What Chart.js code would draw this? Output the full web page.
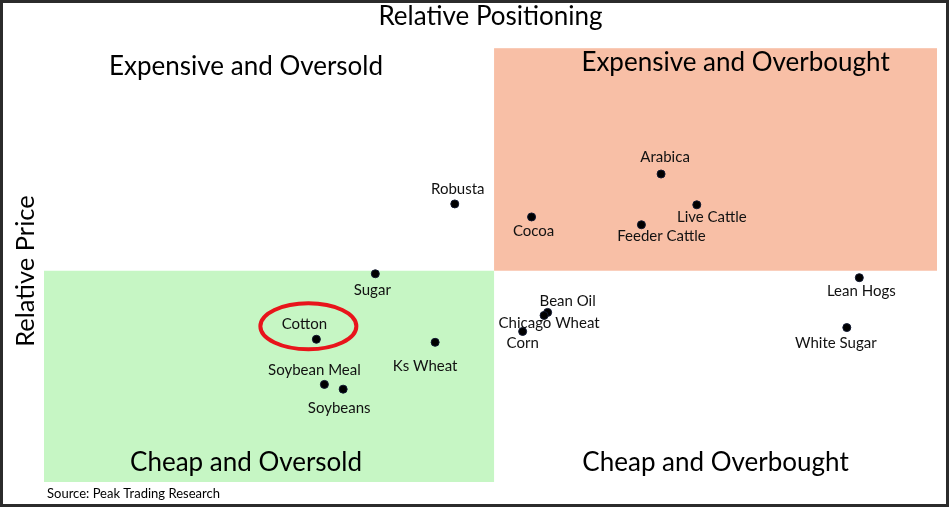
<!DOCTYPE html>
<html>
<head>
<meta charset="utf-8">
<script src="https://cdn.jsdelivr.net/npm/chart.js@4"></script>
<style>
  html, body { margin: 0; padding: 0; background: #fff; }
  #wrap { width: 949px; height: 507px; position: relative; }
</style>
</head>
<body>
<div id="wrap"><canvas id="chart"></canvas></div>
<script>
// commodities and their (relative positioning, relative price) readings
const names = ["Robusta", "Arabica", "Cocoa", "Live Cattle", "Feeder Cattle", "Sugar", "Cotton",
    "Ks Wheat", "Soybean Meal", "Soybeans", "Bean Oil", "Chicago Wheat", "Corn", "Lean Hogs", "White Sugar"];
const positioning = [46.0, 69.1, 54.6, 73.1, 66.9, 37.1, 30.5, 43.8, 31.4, 33.5, 56.4, 56.0, 53.6, 91.3, 89.9];
const price = [64.1, 71.0, 61.1, 63.9, 59.3, 48.0, 32.9, 32.2, 22.5, 21.4, 39.1, 38.4, 34.7, 47.1, 35.6];

// quadrant split on each axis
const splitX = 50.4;
const splitY = 48.7;

// label placement around each dot (px), same order as names
const labelOffsets = [[3, -15], [4, -17], [2, 14], [15, 12], [20, 11], [-3, 16], [-12, -15],
    [-10, 24], [-10, -14], [-4, 19], [20, -11], [5, 8], [0, 12], [2, 13], [-11, 16]];

const FONT = "Lato, 'Open Sans', sans-serif";

const quadrantPlugin = {
    id: "quadrants",
    beforeDatasetsDraw(chart) {
        const { ctx, chartArea, scales } = chart;
        const x = scales.x, y = scales.y;
        const mx = x.getPixelForValue(splitX), my = y.getPixelForValue(splitY);
        ctx.save();
        ctx.fillStyle = "#c6f6c4";
        ctx.fillRect(chartArea.left, my, mx - chartArea.left, chartArea.bottom - my);
        ctx.fillStyle = "#f8bfa6";
        ctx.fillRect(mx, chartArea.top, chartArea.right - mx, my - chartArea.top);

        ctx.fillStyle = "#000";
        ctx.textAlign = "center";
        ctx.textBaseline = "middle";
        ctx.font = "26px " + FONT;
        ctx.fillText("Expensive and Oversold", (chartArea.left + mx) / 2 - 23, chartArea.top + 18);
        ctx.fillText("Expensive and Overbought", (mx + chartArea.right) / 2 + 20, chartArea.top + 14);
        ctx.fillText("Cheap and Oversold", (chartArea.left + mx) / 2 - 23, chartArea.bottom - 19);
        ctx.fillText("Cheap and Overbought", (mx + chartArea.right) / 2, chartArea.bottom - 19);

        // vertical axis caption
        ctx.save();
        ctx.translate(26, (chartArea.top + chartArea.bottom) / 2 + 6);
        ctx.rotate(-Math.PI / 2);
        ctx.font = "25.5px " + FONT;
        ctx.fillText("Relative Price", 0, 0);
        ctx.restore();
        ctx.restore();
    },
    afterDatasetsDraw(chart) {
        const { ctx } = chart;
        const pts = chart.getDatasetMeta(0).data;
        ctx.save();
        ctx.fillStyle = "#111";
        ctx.textAlign = "center";
        ctx.textBaseline = "middle";
        ctx.font = "15px " + FONT;
        pts.forEach((p, i) => {
            ctx.fillText(names[i], p.x + labelOffsets[i][0], p.y + labelOffsets[i][1]);
        });
        // red ring around Cotton
        const c = pts[names.indexOf("Cotton")];
        ctx.strokeStyle = "#e8141b";
        ctx.lineWidth = 4;
        ctx.beginPath();
        ctx.ellipse(c.x - 8, c.y - 13, 48, 23, 0, 0, Math.PI * 2);
        ctx.stroke();
        ctx.restore();
    },
    afterDraw(chart) {
        const { ctx, width, height } = chart;
        ctx.save();
        ctx.fillStyle = "#000";
        ctx.font = "13px " + FONT;
        ctx.textBaseline = "middle";
        ctx.fillText("Source: Peak Trading Research", 47, 494);
        ctx.strokeStyle = "#2b2b2b";
        ctx.lineWidth = 3;
        ctx.strokeRect(1.5, 1.5, width - 3, height - 3);
        ctx.restore();
    }
};

new Chart(document.getElementById("chart"), {
    type: "scatter",
    data: {
        datasets: [{
            data: names.map((n, i) => ({ x: positioning[i], y: price[i] })),
            pointRadius: 4,
            pointHoverRadius: 4,
            pointBackgroundColor: "#000",
            pointBorderColor: "#101830",
            pointBorderWidth: 1
        }]
    },
    options: {
        responsive: true,
        maintainAspectRatio: false,
        animation: false,
        layout: { padding: { left: 44, right: 12, top: 0, bottom: 25 } },
        plugins: {
            legend: { display: false },
            tooltip: { enabled: false },
            title: {
                display: true,
                text: "Relative Positioning",
                color: "#000",
                font: { family: FONT, size: 26, weight: "normal" },
                padding: { top: 1, bottom: 16 }
            }
        },
        scales: {
            x: { min: 0, max: 100, display: false },
            y: { min: 0, max: 100, display: false }
        }
    },
    plugins: [quadrantPlugin]
});
</script>
</body>
</html>
